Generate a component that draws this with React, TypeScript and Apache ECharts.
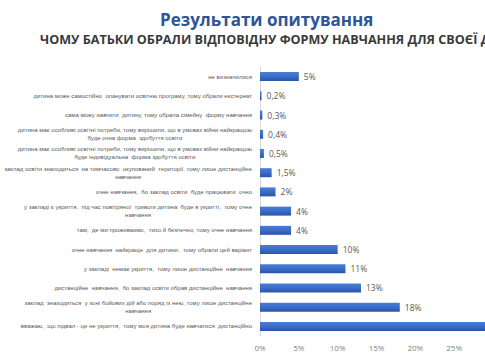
import React, { useEffect, useRef } from "react";
import * as echarts from "echarts";

const categories: string[] = [
  "не визначилися",
  "дитина може самостійно  опанувати освітню програму, тому обрали екстернат",
  "сама можу навчити  дитину, тому обрала сімейну  форму навчання",
  "дитина має особливі освітні потреби, тому вирішили, що в умовах війни найкращою\nбуде очна форма  здобуття освіти",
  "дитина має особливі освітні потреби, тому вирішили, що в умовах війни найкращою\nбуде індивідуальна  форма здобуття освіти",
  "заклад освіти знаходиться  на тимчасово  окупований  території, тому лише дистанційне\nнавчання",
  "очне навчання,  бо заклад освіти  буде працювати  очно",
  "у закладі є укриття,  під час повітряної  тривоги дитина  буде в укритті,  тому очне\nнавчання",
  "там,  де ми проживаємо,  тихо й безпечно, тому очне навчання",
  "очне навчання  найкраще  для дитини,  тому обрали цей варіант",
  "у закладі  немає укриття,  тому лише дистанційне  навчання",
  "дистанційне  навчання,  бо заклад освіти обрав дистанційне  навчання",
  "заклад  знаходиться  у зоні бойових дій або поряд із нею, тому лише дистанційне\nнавчання",
  "вважаю,  що підвал - це не укриття,  тому моя дитина буде навчатися  дистанційно",
];
const values: number[] = [5, 0.2, 0.3, 0.4, 0.5, 1.5, 2, 4, 4, 10, 11, 13, 18, 30];
const labelTexts: string[] = ["5%", "0,2%", "0,3%", "0,4%", "0,5%", "1,5%", "2%", "4%", "4%", "10%", "11%", "13%", "18%", ""];
const xTicks = { min: 0, max: 30, interval: 5 };
const title = "Результати опитування";
const subtitle = "ЧОМУ БАТЬКИ ОБРАЛИ ВІДПОВІДНУ ФОРМУ НАВЧАННЯ ДЛЯ СВОЄЇ ДИТИНИ";

export default function App() {
  const ref = useRef<HTMLDivElement>(null);
  useEffect(() => {
    if (!ref.current) return;
    const chart = echarts.init(ref.current, null, { renderer: "svg" });
    chart.setOption({
      animation: false,
      backgroundColor: "#ffffff",
      graphic: [
        {
          type: "text",
          left: 160,
          top: 11,
          style: {
            text: title,
            fill: "#2f5597",
            font: "bold 17px 'Open Sans', sans-serif",
          },
        },
        {
          type: "text",
          left: 40,
          top: 33,
          style: {
            text: subtitle,
            fill: "#3a3a3a",
            font: "bold 12.6px 'Open Sans', sans-serif",
          },
        },
      ],
      grid: {
        left: 260,
        right: 27,
        top: 67,
        bottom: 24,
        containLabel: false,
        outerBoundsMode: "none",
      },
      xAxis: {
        type: "value",
        min: xTicks.min,
        max: xTicks.max,
        interval: xTicks.interval,
        axisLine: { show: false },
        axisTick: { show: false },
        splitLine: { show: false },
        axisLabel: {
          formatter: (v: number) => (v >= xTicks.max ? "" : v + "%"),
          showMaxLabel: false,
          color: "#7f7f7f",
          fontSize: 8,
          fontFamily: "'Open Sans', sans-serif",
          margin: 7,
        },
      },
      yAxis: {
        type: "category",
        inverse: true,
        data: categories,
        axisLine: { show: true, lineStyle: { color: "#d9d9d9" } },
        axisTick: { show: false },
        axisLabel: {
          margin: 8,
          align: "right",
          formatter: (v: string) =>
            v
              .split("\n")
              .map((l) => "{c|" + l + "}")
              .join("\n"),
          rich: {
            c: {
              align: "center",
              fontSize: 6,
              lineHeight: 8,
              color: "#595959",
              fontFamily: "'Liberation Sans', sans-serif",
            },
          },
        },
      },
      series: [
        {
          type: "bar",
          data: values,
          barWidth: 9,
          itemStyle: {
            color: new echarts.graphic.LinearGradient(0, 0, 0, 1, [
              { offset: 0, color: "#4a7fd6" },
              { offset: 0.5, color: "#3b6cc7" },
              { offset: 1, color: "#2a55a8" },
            ]),
          },
          label: {
            show: true,
            position: "right",
            distance: 5,
            color: "#595959",
            fontSize: 8.5,
            fontFamily: "'Open Sans', sans-serif",
            formatter: (p: any) => labelTexts[p.dataIndex],
          },
        },
      ],
    });
    return () => chart.dispose();
  }, []);
  return (
    <div
      style={{
        position: "fixed",
        left: 0,
        top: 0,
        width: 485,
        height: 360,
        overflow: "hidden",
        background: "#fff",
      }}
    >
      <div ref={ref} style={{ width: 520, height: 360 }} />
    </div>
  );
}
